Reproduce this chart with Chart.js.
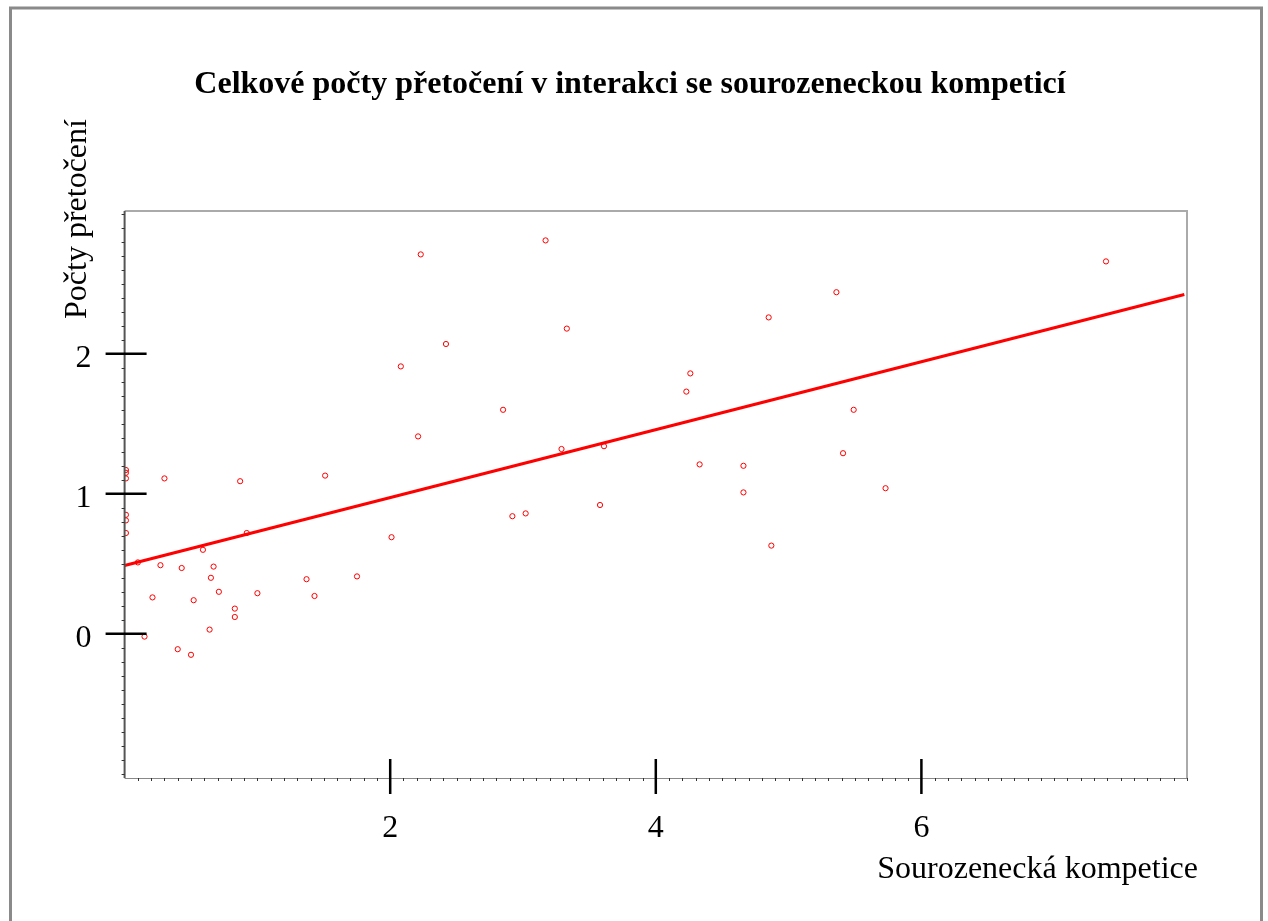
<!DOCTYPE html>
<html>
<head>
<meta charset="utf-8">
<script src="https://cdn.jsdelivr.net/npm/chart.js@4"></script>
<style>
  body { margin: 0; background: #fff; }
  canvas { display: block; }
</style>
</head>
<body>
<canvas id="chart" width="1268" height="921"></canvas>
<script>
const titleText = 'Celkové počty přetočení v interakci se sourozeneckou kompeticí';
const xTitle = 'Sourozenecká kompetice';
const yTitle = 'Počty přetočení';

// sourozenecká kompetice (x) and počty přetočení (y)
const compValues = [0.01, 0.01, 0.01, 0.01, 0.01, 0.01, 0.10, 0.15, 0.21, 0.27, 0.30, 0.40, 0.43,
  0.50, 0.52, 0.59, 0.64, 0.65, 0.67, 0.71, 0.83, 0.83, 0.87, 0.92, 1.00, 1.37, 1.43, 1.51,
  1.75, 2.01, 2.08, 2.21, 2.23, 2.42, 2.85, 2.92, 3.02, 3.17, 3.29, 3.33, 3.58, 3.61, 4.23,
  4.26, 4.33, 4.66, 4.66, 4.85, 4.87, 5.36, 5.41, 5.49, 5.73, 7.39];
const turnValues = [1.17, 1.15, 1.11, 0.85, 0.81, 0.72, 0.51, -0.02, 0.26, 0.49, 1.11, -0.11, 0.47,
  -0.15, 0.24, 0.60, 0.03, 0.40, 0.48, 0.30, 0.18, 0.12, 1.09, 0.72, 0.29, 0.39, 0.27, 1.13,
  0.41, 0.69, 1.91, 1.41, 2.71, 2.07, 1.60, 0.84, 0.86, 2.81, 1.32, 2.18, 0.92, 1.34, 1.73,
  1.86, 1.21, 1.20, 1.01, 2.26, 0.63, 2.44, 1.29, 1.60, 1.04, 2.66];

// fitted line end points
const fitX = [0, 7.98];
const fitY = [0.488, 2.424];

const xTicks = [2, 4, 6];
const yTicks = [0, 1, 2];

const points = compValues.map((v, i) => ({ x: v, y: turnValues[i] }));
const fitLine = fitX.map((v, i) => ({ x: v, y: fitY[i] }));

const serif = '"Liberation Serif", "Times New Roman", serif';

const decor = {
  id: 'decor',
  beforeDraw(chart) {
    const c = chart.ctx;
    c.save();
    c.fillStyle = '#fff';
    c.fillRect(0, 0, chart.width, chart.height);
    // outer frame
    c.strokeStyle = '#8a8a8a';
    c.lineWidth = 3;
    c.strokeRect(10.5, 8, 1251, 940);
    c.restore();
  },
  afterDraw(chart) {
    const c = chart.ctx;
    const a = chart.chartArea;
    const xs = chart.scales.x, ys = chart.scales.y;
    c.save();
    // plot box
    c.strokeStyle = '#aaa';
    c.lineWidth = 2;
    c.beginPath();
    c.moveTo(a.left, a.top); c.lineTo(a.right, a.top); c.lineTo(a.right, a.bottom);
    c.stroke();
    c.strokeStyle = '#888';
    c.lineWidth = 1;
    c.beginPath();
    c.moveTo(a.left, a.bottom + 0.5); c.lineTo(a.right, a.bottom + 0.5);
    c.stroke();
    c.strokeStyle = '#555';
    c.lineWidth = 2;
    c.beginPath();
    c.moveTo(a.left, a.top); c.lineTo(a.left, a.bottom);
    c.stroke();

    // minor ticks
    c.strokeStyle = '#333';
    c.lineWidth = 1;
    c.beginPath();
    for (let i = -10; i <= 30; i++) {
      const py = Math.round(ys.getPixelForValue(i / 10)) + 0.5;
      c.moveTo(a.left - 3, py); c.lineTo(a.left, py);
    }
    for (let i = 1; i <= 80; i++) {
      const px = Math.round(xs.getPixelForValue(i / 10)) + 0.5;
      c.moveTo(px, a.bottom); c.lineTo(px, a.bottom + 3);
    }
    c.stroke();

    // major ticks
    c.strokeStyle = '#000';
    c.lineWidth = 2.5;
    c.beginPath();
    yTicks.forEach(v => {
      const py = ys.getPixelForValue(v);
      c.moveTo(a.left - 19, py); c.lineTo(a.left + 22, py);
    });
    xTicks.forEach(v => {
      const px = xs.getPixelForValue(v);
      c.moveTo(px, a.bottom - 19); c.lineTo(px, a.bottom + 16);
    });
    c.stroke();

    // titles
    c.fillStyle = '#000';
    c.font = 'bold 32px ' + serif;
    c.textAlign = 'center';
    c.textBaseline = 'middle';
    c.fillText(titleText, 630, 85);

    c.font = '32px ' + serif;
    c.textAlign = 'right';
    c.fillText(xTitle, 1198, 870);

    c.translate(78, 219);
    c.rotate(-Math.PI / 2);
    c.textAlign = 'center';
    c.fillText(yTitle, 0, 0);
    c.restore();
  }
};

new Chart(document.getElementById('chart'), {
  type: 'scatter',
  data: {
    datasets: [
      {
        type: 'line',
        data: fitLine,
        borderColor: '#ff0000',
        borderWidth: 3,
        pointRadius: 0,
        fill: false,
        order: 2
      },
      {
        data: points,
        pointStyle: 'circle',
        pointRadius: 2.6,
        borderWidth: 1,
        borderColor: '#ff0000',
        backgroundColor: 'rgba(0,0,0,0)',
        order: 1
      }
    ]
  },
  options: {
    responsive: false,
    animation: false,
    layout: { padding: { left: 0, right: 81, top: 211, bottom: 0 } },
    plugins: { legend: { display: false }, tooltip: { enabled: false } },
    scales: {
      x: {
        type: 'linear',
        min: 0,
        max: 8,
        border: { display: false },
        grid: { display: false, drawTicks: false },
        afterBuildTicks: s => { s.ticks = xTicks.map(v => ({ value: v })); },
        afterFit: s => { s.height = 143; },
        ticks: { color: '#000', padding: 31, font: { family: serif, size: 32 } }
      },
      y: {
        type: 'linear',
        min: -1.03,
        max: 3.02,
        border: { display: false },
        grid: { display: false, drawTicks: false },
        afterBuildTicks: s => { s.ticks = yTicks.map(v => ({ value: v })); },
        afterFit: s => { s.width = 124.6; },
        ticks: { color: '#000', padding: 33, labelOffset: 5, font: { family: serif, size: 32 } }
      }
    }
  },
  plugins: [decor]
});
</script>
</body>
</html>
